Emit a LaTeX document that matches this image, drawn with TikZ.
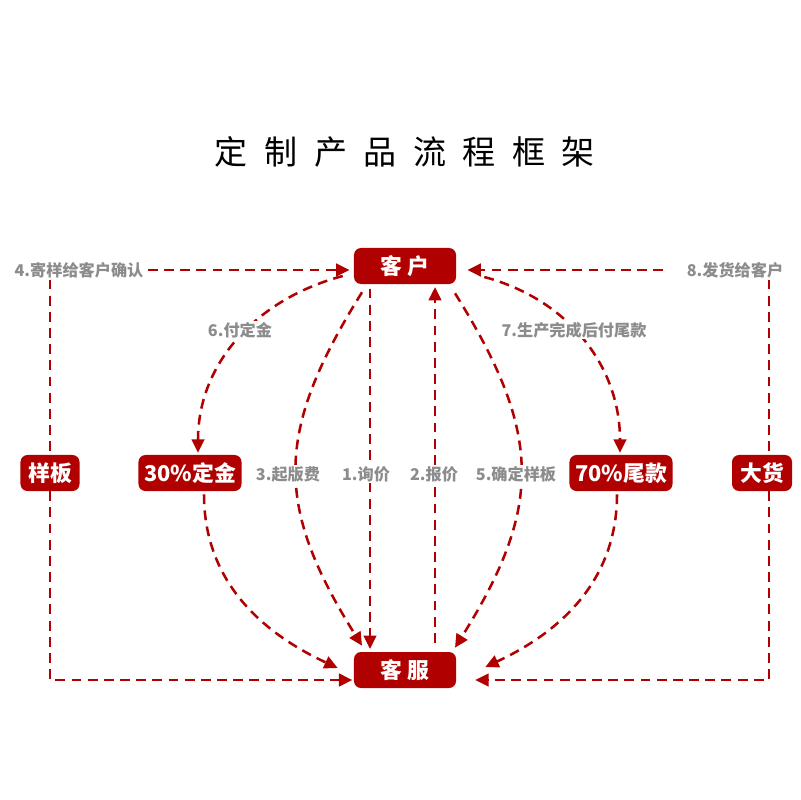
\documentclass[tikz,border=0pt]{standalone}
\usepackage{fontspec}
\setmainfont{Noto Sans CJK SC}
\usepackage{xcolor}
\usepackage{tikz}
\usetikzlibrary{arrows.meta}
\definecolor{deepred}{HTML}{B00000}
\definecolor{lblgray}{HTML}{8C8C8C}

\begin{document}
\begin{tikzpicture}[x=0.025cm,y=0.025cm,
  every node/.style={font=\fontsize{11.5}{13}\selectfont},
  box/.style={fill=deepred,text=white,rounded corners=5pt,minimum height=0.9cm,inner sep=2pt,font=\fontsize{15.5}{17}\selectfont\bfseries},
  lbl/.style={fill=white,text=lblgray,inner sep=1pt,font=\fontsize{11.5}{13}\selectfont\bfseries},
  flow/.style={draw=deepred,line width=1.8pt,dash pattern=on 7pt off 4.5pt,-{Triangle[length=9.5pt,width=9pt]}}]
 \useasboundingbox (0,0) rectangle (800,-800);
 \node[font=\fontsize{23.5}{26}\selectfont] (title) at (405,-152) {定\hspace{.5em}制\hspace{.5em}产\hspace{.5em}品\hspace{.5em}流\hspace{.5em}程\hspace{.5em}框\hspace{.5em}架};
 \node[box,minimum width=2.55cm] (kh) at (405,-266) {客\hspace{.25em}户};
 \node[box,minimum width=2.55cm] (kf) at (405,-670) {客\hspace{.25em}服};
 \node[box,minimum width=1.475cm] (yb) at (50,-473) {样板};
 \node[box,minimum width=2.575cm] (dj) at (190,-473) {30\%定金};
 \node[box,minimum width=2.575cm] (wk) at (621,-473) {70\%尾款};
 \node[box,minimum width=1.5cm] (dh) at (762,-473) {大货};
 \node[lbl] (l4) at (79,-270) {4.寄样给客户确认};
 \node[lbl] (l8) at (735,-270) {8.发货给客户};
 \coordinate (dhtop) at ([xshift=0.175cm]dh.north);
 \coordinate (dhbot) at ([xshift=0.175cm]dh.south);
 % sample loop on the left, goods loop on the right
 \draw[flow,shorten <=2pt,shorten >=3pt] (l4.east) -- (l4.east -| kh.west);
 \draw[flow,-] (l4.south -| yb) -- (yb.north);
 \draw[flow,shorten >=1pt] (yb.south) |- ([yshift=-0.25cm]kf.west);
 \draw[flow,shorten <=0.55cm,shorten >=0.28cm] (l8.west) -- (l8.west -| kh.east);
 \draw[flow,-] (dhtop |- l8.south) -- (dhtop);
 \draw[flow,shorten >=13.5pt] (dhbot) |- ([yshift=-0.25cm]kf.east);
 % straight and bent steps between the two boxes
 \draw[flow,shorten <=3pt,shorten >=2pt] ([xshift=-0.875cm]kh.south) -- ([xshift=-0.875cm]kf.north);
 \draw[flow,shorten <=6.4pt,shorten >=2pt] ([xshift=0.75cm]kf.north) -- ([xshift=0.75cm]kh.south);
 \draw[flow] ([shift={(-43,-8)}]kh.south) to[out=238,in=122,looseness=1.2] ([shift={(-43,6)}]kf.north);
 \draw[flow] ([shift={(50,-9)}]kh.south) to[out=302,in=58,looseness=1.2] ([shift={(50,4)}]kf.north);
 \draw[flow] ([shift={(-11,-10)}]kh.west) to[out=195,in=90] ([shift={(8,2)}]dj.north);
 \draw[flow] ([shift={(28,-11)}]kh.east) to[out=345,in=90] ([shift={(-1,2)}]wk.north);
 \draw[flow] ([shift={(14,-3)}]dj.south) to[out=270,in=155] ([shift={(-16,2)}]kf.west);
 \draw[flow] ([shift={(-4,-3)}]wk.south) to[out=270,in=25] ([shift={(29,3)}]kf.east);
 \node[lbl] (l6) at (240,-330) {6.付定金};
 \node[lbl] (l7) at (574,-330) {7.生产完成后付尾款};
 \node[lbl] (l3) at (288,-474) {3.起版费};
 \node[lbl] (l1) at (366,-474) {1.询价};
 \node[lbl] (l2) at (434,-474) {2.报价};
 \node[lbl] (l5) at (516,-474) {5.确定样板};
\end{tikzpicture}
\end{document}
